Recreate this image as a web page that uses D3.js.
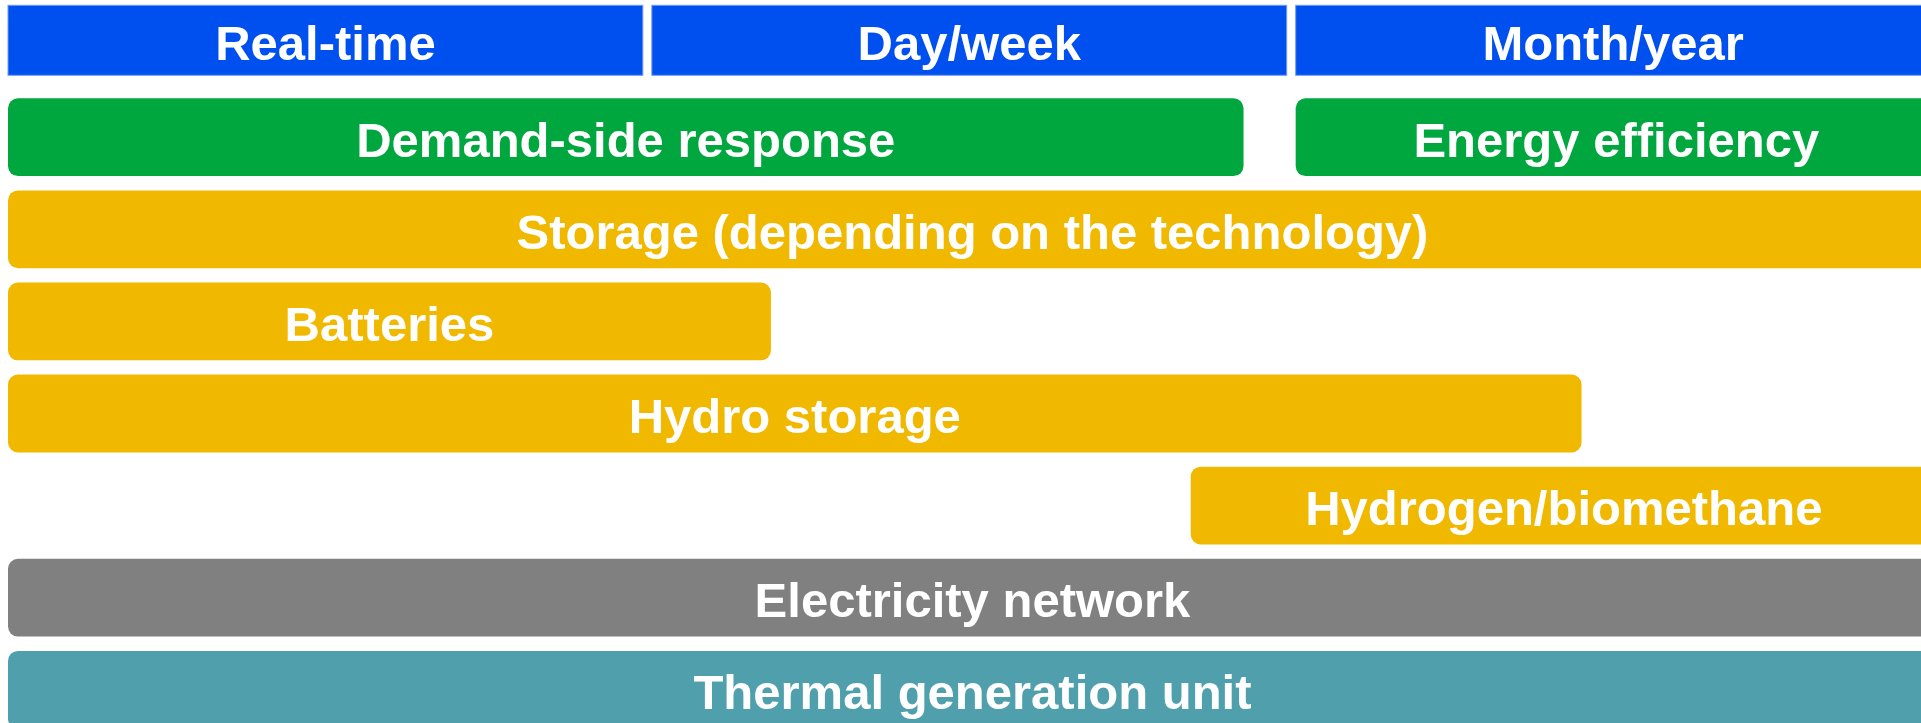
<!DOCTYPE html>
<html>
<head>
<meta charset="utf-8">
<script src="https://cdn.jsdelivr.net/npm/d3@7"></script>
<style>
  html, body { margin: 0; padding: 0; background: #fff; overflow: hidden; }
  svg { display: block; }
  .label { font-family: "Liberation Sans", Arial, Helvetica, sans-serif; font-weight: bold; fill: #fff; }
</style>
</head>
<body>
<div id="chart"></div>
<script>
// time horizons (columns of the header)
const horizons = ['Real-time', 'Day/week', 'Month/year'];

// flexibility levers, start/end expressed in header columns (0..3)
const levers = ['Demand-side response', 'Energy efficiency', 'Storage (depending on the technology)',
  'Batteries', 'Hydro storage', 'Hydrogen/biomethane', 'Electricity network', 'Thermal generation unit'];
const leverStart = [0, 2, 0, 0, 0, 1.837, 0, 0];
const leverEnd = [1.933, 3.01, 3.01, 1.199, 2.458, 3.01, 3.01, 3.01];
const leverRow = [0, 0, 1, 2, 3, 4, 5, 6];
const leverGroup = ['demand', 'demand', 'storage', 'storage', 'storage', 'storage', 'network', 'thermal'];

const colors = {
  header: '#0050ef',
  demand: '#00a63e',
  storage: '#f1b800',
  network: '#808080',
  thermal: '#4fa0ac',
};

const width = 1921;
const height = 723;
const pad = 4.5;      // half gap between neighbouring boxes
const fontSize = 49;

const svg = d3.select('#chart').append('svg')
  .attr('width', width)
  .attr('height', height);

// x: columns, slightly wider than the window (right side is cropped in the original)
const x = d3.scaleLinear().domain([0, horizons.length]).range([3.5, 1935]);

const y = d3.scaleBand()
  .domain(d3.range(7))
  .range([98.3, 728.7])
  .paddingInner(0.155);

const header = { top: 5.3, height: 70 };

// header row
const hg = svg.append('g').attr('class', 'group-header');
hg.selectAll('rect')
  .data(horizons)
  .enter().append('rect')
  .attr('x', (d, i) => x(i) + pad)
  .attr('y', header.top)
  .attr('width', (d, i) => x(i + 1) - x(i) - 2 * pad)
  .attr('height', header.height)
  .style('fill', colors.header)
  .style('stroke', '#6f9cf6')
  .style('stroke-width', 1);

hg.selectAll('text')
  .data(horizons)
  .enter().append('text')
  .attr('class', 'label')
  .attr('x', (d, i) => (x(i) + x(i + 1)) / 2)
  .attr('y', header.top + header.height / 2 + fontSize * 0.358 + 2)
  .attr('text-anchor', 'middle')
  .style('font-size', fontSize + 'px')
  .text((d) => d);

// lever bars
const data = levers.map((name, i) => ({
  name,
  start: leverStart[i],
  end: leverEnd[i],
  row: leverRow[i],
  group: leverGroup[i],
}));

const bg = svg.append('g').attr('class', 'group-bars');
bg.selectAll('rect')
  .data(data)
  .enter().append('rect')
  .attr('x', (d) => x(d.start) + pad)
  .attr('y', (d) => y(d.row))
  .attr('width', (d) => x(d.end) - x(d.start) - 2 * pad)
  .attr('height', y.bandwidth())
  .attr('rx', 10)
  .attr('ry', 10)
  .style('fill', (d) => colors[d.group]);

bg.selectAll('text')
  .data(data)
  .enter().append('text')
  .attr('class', 'label')
  .attr('x', (d) => (x(d.start) + x(d.end)) / 2)
  .attr('y', (d) => y(d.row) + y.bandwidth() / 2 + fontSize * 0.358 + 2)
  .attr('text-anchor', 'middle')
  .style('font-size', fontSize + 'px')
  .text((d) => d.name);
</script>
</body>
</html>
